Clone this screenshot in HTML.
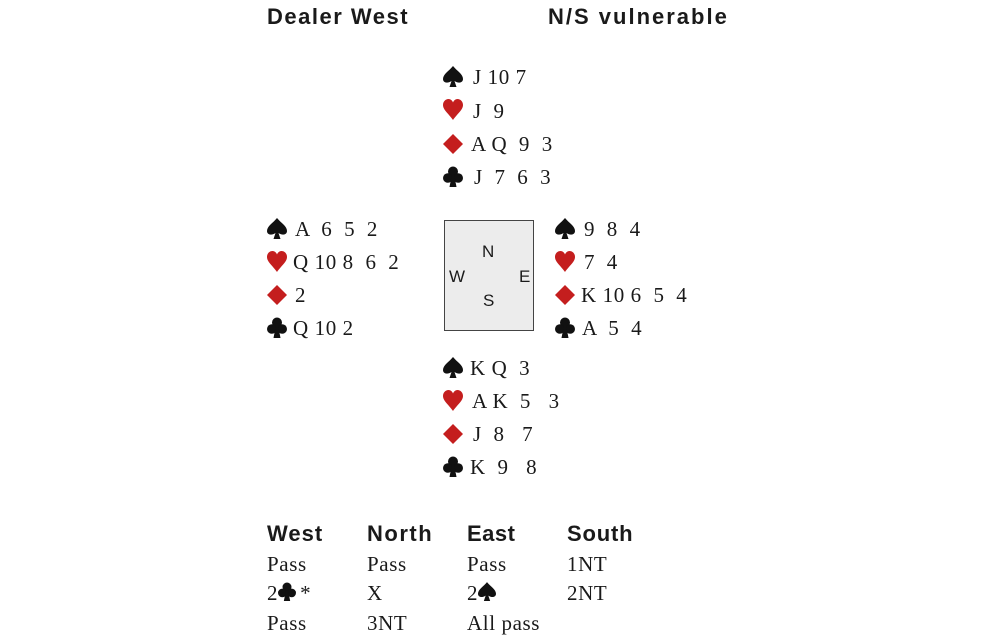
<!DOCTYPE html>
<html><head><meta charset="utf-8"><style>
body{margin:0;width:1000px;height:642px;background:#fff;position:relative;overflow:hidden;color:#1a1a1a}
.t{position:absolute;font-family:"Liberation Serif",serif;font-size:21px;line-height:24px;white-space:pre;letter-spacing:0.6px}
svg.s{position:absolute;width:20px;height:22px}
.h{position:absolute;font-family:"Liberation Sans",sans-serif;font-weight:bold;font-size:22px;line-height:24px;white-space:pre}
.box{position:absolute;left:444px;top:220px;width:88px;height:109px;border:1.5px solid #444;background:#ececec}
.c{position:absolute;font-family:"Liberation Sans",sans-serif;font-size:17px;line-height:18px}
</style></head><body>
<div class="h" style="left:267px;top:5px;letter-spacing:1.5px">Dealer West</div>
<div class="h" style="left:548px;top:5px;letter-spacing:2px">N/S vulnerable</div>

<!-- North -->
<svg class="s" style="left:443px;top:66px" viewBox="0 0 20 22"><path fill="#111" d="M10 0C6 5 0 8 0 13C0 16.5 4 18 8.5 15L6.5 21L13.5 21L11.5 15C16 18 20 16.5 20 13C20 8 14 5 10 0Z"/></svg><div class="t" style="left:473px;top:65px">J 10 7</div>
<svg class="s" style="left:443px;top:99px" viewBox="0 0 20 22"><path fill="#c41e1e" d="M10 21C6 15 0 11 0 6C0 2.5 2.5 0 5.5 0C8 0 9.5 2 10 3.5C10.5 2 12 0 14.5 0C17.5 0 20 2.5 20 6C20 11 14 15 10 21Z"/></svg><div class="t" style="left:473px;top:99px">J  9</div>
<svg class="s" style="left:443px;top:133px" viewBox="0 0 20 22"><path fill="#c41e1e" d="M10 1L20 11L10 21L0 11Z"/></svg><div class="t" style="left:471px;top:132px">A Q  9  3</div>
<svg class="s" style="left:443px;top:166px" viewBox="0 0 20 22"><g fill="#111"><circle cx="10" cy="5.5" r="5"/><circle cx="4.8" cy="12" r="4.8"/><circle cx="15.2" cy="12" r="4.8"/><path d="M8.8 9L6.5 21L13.5 21L11.2 9Z"/></g></svg><div class="t" style="left:474px;top:165px">J  7  6  3</div>

<!-- West -->
<svg class="s" style="left:267px;top:218px" viewBox="0 0 20 22"><path fill="#111" d="M10 0C6 5 0 8 0 13C0 16.5 4 18 8.5 15L6.5 21L13.5 21L11.5 15C16 18 20 16.5 20 13C20 8 14 5 10 0Z"/></svg><div class="t" style="left:295px;top:217px">A  6  5  2</div>
<svg class="s" style="left:267px;top:251px" viewBox="0 0 20 22"><path fill="#c41e1e" d="M10 21C6 15 0 11 0 6C0 2.5 2.5 0 5.5 0C8 0 9.5 2 10 3.5C10.5 2 12 0 14.5 0C17.5 0 20 2.5 20 6C20 11 14 15 10 21Z"/></svg><div class="t" style="left:293px;top:250px">Q 10 8  6  2</div>
<svg class="s" style="left:267px;top:284px" viewBox="0 0 20 22"><path fill="#c41e1e" d="M10 1L20 11L10 21L0 11Z"/></svg><div class="t" style="left:295px;top:283px">2</div>
<svg class="s" style="left:267px;top:317px" viewBox="0 0 20 22"><g fill="#111"><circle cx="10" cy="5.5" r="5"/><circle cx="4.8" cy="12" r="4.8"/><circle cx="15.2" cy="12" r="4.8"/><path d="M8.8 9L6.5 21L13.5 21L11.2 9Z"/></g></svg><div class="t" style="left:293px;top:316px">Q 10 2</div>

<!-- Box -->
<div class="box"></div>
<div class="c" style="left:482px;top:243px">N</div>
<div class="c" style="left:449px;top:268px">W</div>
<div class="c" style="left:519px;top:268px">E</div>
<div class="c" style="left:483px;top:292px">S</div>

<!-- East -->
<svg class="s" style="left:555px;top:218px" viewBox="0 0 20 22"><path fill="#111" d="M10 0C6 5 0 8 0 13C0 16.5 4 18 8.5 15L6.5 21L13.5 21L11.5 15C16 18 20 16.5 20 13C20 8 14 5 10 0Z"/></svg><div class="t" style="left:584px;top:217px">9  8  4</div>
<svg class="s" style="left:555px;top:251px" viewBox="0 0 20 22"><path fill="#c41e1e" d="M10 21C6 15 0 11 0 6C0 2.5 2.5 0 5.5 0C8 0 9.5 2 10 3.5C10.5 2 12 0 14.5 0C17.5 0 20 2.5 20 6C20 11 14 15 10 21Z"/></svg><div class="t" style="left:584px;top:250px">7  4</div>
<svg class="s" style="left:555px;top:284px" viewBox="0 0 20 22"><path fill="#c41e1e" d="M10 1L20 11L10 21L0 11Z"/></svg><div class="t" style="left:581px;top:283px">K 10 6  5  4</div>
<svg class="s" style="left:555px;top:317px" viewBox="0 0 20 22"><g fill="#111"><circle cx="10" cy="5.5" r="5"/><circle cx="4.8" cy="12" r="4.8"/><circle cx="15.2" cy="12" r="4.8"/><path d="M8.8 9L6.5 21L13.5 21L11.2 9Z"/></g></svg><div class="t" style="left:582px;top:316px">A  5  4</div>

<!-- South -->
<svg class="s" style="left:443px;top:357px" viewBox="0 0 20 22"><path fill="#111" d="M10 0C6 5 0 8 0 13C0 16.5 4 18 8.5 15L6.5 21L13.5 21L11.5 15C16 18 20 16.5 20 13C20 8 14 5 10 0Z"/></svg><div class="t" style="left:470px;top:356px">K Q  3</div>
<svg class="s" style="left:443px;top:390px" viewBox="0 0 20 22"><path fill="#c41e1e" d="M10 21C6 15 0 11 0 6C0 2.5 2.5 0 5.5 0C8 0 9.5 2 10 3.5C10.5 2 12 0 14.5 0C17.5 0 20 2.5 20 6C20 11 14 15 10 21Z"/></svg><div class="t" style="left:472px;top:389px">A K  5   3</div>
<svg class="s" style="left:443px;top:423px" viewBox="0 0 20 22"><path fill="#c41e1e" d="M10 1L20 11L10 21L0 11Z"/></svg><div class="t" style="left:473px;top:422px">J  8   7</div>
<svg class="s" style="left:443px;top:456px" viewBox="0 0 20 22"><g fill="#111"><circle cx="10" cy="5.5" r="5"/><circle cx="4.8" cy="12" r="4.8"/><circle cx="15.2" cy="12" r="4.8"/><path d="M8.8 9L6.5 21L13.5 21L11.2 9Z"/></g></svg><div class="t" style="left:470px;top:455px">K  9   8</div>

<!-- Auction -->
<div class="h" style="left:267px;top:522px;letter-spacing:1px">West</div>
<div class="h" style="left:367px;top:522px;letter-spacing:1.5px">North</div>
<div class="h" style="left:467px;top:522px;letter-spacing:0.5px">East</div>
<div class="h" style="left:567px;top:522px;letter-spacing:0.8px">South</div>
<div class="t" style="left:267px;top:552px">Pass</div>
<div class="t" style="left:367px;top:552px">Pass</div>
<div class="t" style="left:467px;top:552px">Pass</div>
<div class="t" style="left:567px;top:552px">1NT</div>
<div class="t" style="left:267px;top:581px">2<span style="display:inline-block;width:22px"></span>*</div>
<svg class="s" style="left:278px;top:582px;width:18px;height:20px" viewBox="0 0 20 22"><g fill="#111"><circle cx="10" cy="5.5" r="5"/><circle cx="4.8" cy="12" r="4.8"/><circle cx="15.2" cy="12" r="4.8"/><path d="M8.8 9L6.5 21L13.5 21L11.2 9Z"/></g></svg>
<div class="t" style="left:367px;top:581px">X</div>
<div class="t" style="left:467px;top:581px">2</div>
<svg class="s" style="left:478px;top:582px;width:18px;height:20px" viewBox="0 0 20 22"><path fill="#111" d="M10 0C6 5 0 8 0 13C0 16.5 4 18 8.5 15L6.5 21L13.5 21L11.5 15C16 18 20 16.5 20 13C20 8 14 5 10 0Z"/></svg>
<div class="t" style="left:567px;top:581px">2NT</div>
<div class="t" style="left:267px;top:611px">Pass</div>
<div class="t" style="left:367px;top:611px">3NT</div>
<div class="t" style="left:467px;top:611px">All pass</div>
</body></html>
